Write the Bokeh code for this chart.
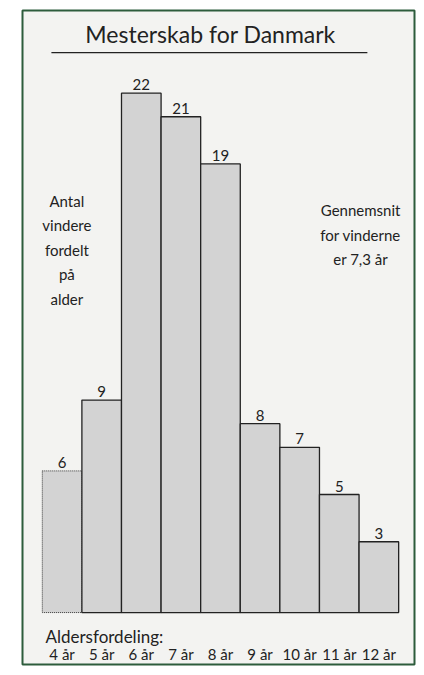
from bokeh.plotting import figure
from bokeh.models import Range1d
from bokeh.core.properties import value
from bokeh.embed import file_html
from bokeh.resources import INLINE

title_text = "Mesterskab for Danmark"
ages = [4, 5, 6, 7, 8, 9, 10, 11, 12]
tick_labels = ["4 år", "5 år", "6 år", "7 år", "8 år", "9 år", "10 år", "11 år", "12 år"]
counts = [6, 9, 22, 21, 19, 8, 7, 5, 3]
left_note = ["Antal", "vindere", "fordelt", "på", "alder"]
right_note = ["Gennemsnit", "for vinderne", "er 7,3 år"]
axis_caption = "Aldersfordeling:"

FONT = value("Lato")
INK = "#222222"

p = figure(width=416, height=667, output_backend="svg", toolbar_location=None,
           x_range=Range1d(3.0, 12.9), y_range=Range1d(-2.2, 25.5),
           min_border_left=22, min_border_right=2, min_border_top=10, min_border_bottom=3)
p.xaxis.visible = False
p.yaxis.visible = False
p.grid.visible = False
p.background_fill_color = "#f3f3f1"
p.border_fill_color = "white"
p.outline_line_color = "#2d5c3c"
p.outline_line_width = 2

# bars: first one dotted outline, rest solid
p.vbar(x=ages[:1], top=counts[:1], bottom=0, width=1, fill_color="#d3d3d3",
       line_color="#333333", line_width=1, line_dash="1 1")
p.vbar(x=ages[1:], top=counts[1:], bottom=0, width=1, fill_color="#d3d3d3",
       line_color=INK, line_width=1.3)

# value labels
p.text(x=ages, y=counts, text=[str(c) for c in counts], text_align="center",
       text_baseline="bottom", y_offset=-3, text_font=FONT, text_font_size="15px",
       text_color=INK)

# title and underline
p.text(x=[7.75], y=[24.5], text=[title_text], text_align="center", text_baseline="middle",
       text_font=FONT, text_font_size="23px", text_color=INK)
p.segment(x0=[3.73], y0=[23.72], x1=[11.71], y1=[23.72], line_color=INK, line_width=1.3)

# side notes
p.text(x=[4.12] * len(left_note), y=[17.45 - 1.04 * i for i in range(len(left_note))],
       text=left_note, text_align="center", text_baseline="middle",
       text_font=FONT, text_font_size="15px", text_color=INK)
p.text(x=[11.54] * len(right_note), y=[17.03 - 1.02 * i for i in range(len(right_note))],
       text=right_note, text_align="center", text_baseline="middle",
       text_font=FONT, text_font_size="15px", text_color=INK)

# category caption and labels
p.text(x=[3.58], y=[-1.0], text=[axis_caption], text_align="left", text_baseline="middle",
       text_font=FONT, text_font_size="17px", text_color=INK)
p.text(x=ages, y=[-1.77] * len(ages), text=tick_labels, text_align="center",
       text_baseline="middle", text_font=FONT, text_font_size="15px", text_color=INK)

open("out.html", "w").write(file_html(p, INLINE))
